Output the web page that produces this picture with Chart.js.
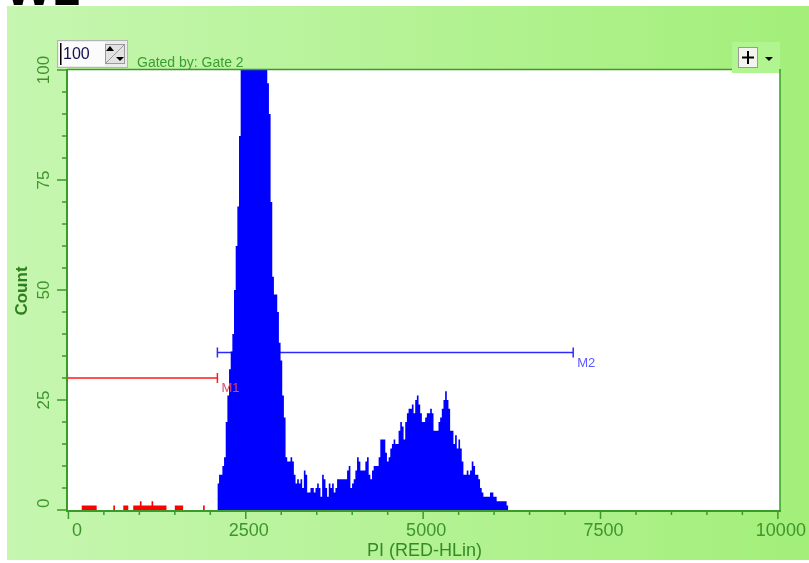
<!DOCTYPE html>
<html><head><meta charset="utf-8">
<script src="https://cdn.jsdelivr.net/npm/chart.js@4.4.1/dist/chart.umd.min.js"></script>
<style>html,body{margin:0;padding:0;background:#fff;overflow:hidden}canvas{display:block}</style>
</head><body>
<canvas id="c" width="809" height="563"></canvas>
<script>
// ---- data ----
const BIN_WIDTH = 23.43;     // PI units per histogram channel
const RED_START = 0;         // first channel drawn in red (below M2)
const BLUE_START = 2100;     // first channel drawn in blue (M2 region)
const redCounts = [0,0,0,0,0,0,0,0, 1,1,1,1,1,1,1,1,1, 0,0,0,0,0,0,0,0,0,0, 1, 0,0,0,0,0, 1,1,1, 0,0,0,
  1,1,1,1,2,1,1,1,1,1,1,2,1,1,1,1,1,1,1,1, 0,0,0,0,0, 1,1,1,1,1, 0,0,0,0,0,0,0,0,0,0,0,0, 1, 0,0,0,0,0,0,0];
const blueCounts = [6,8,8,10,12,20,26,32,36,40, 50,60,69,85,105,130,150,170,180,185,
  180,175,170,160,150,140,130,120,108,100, 97,90,70,53,49,49,45,38,34,26,
  21,12,11,11,12,11,8,6,7,6, 7,5,9,8,4,4,5,5,4,5, 6,5,3,8,7,5,3,6,5,6,
  4,5,7,7,7,7,7,7,9,10, 5,6,7,9,12,11,9,9,9,11, 12,8,7,9,10,10,10,12,16,16,
  16,13,11,12,14,15,16,15,15,18, 20,19,16,20,22,23,23,24,22,25, 26,24,22,20,20,21,22,22,23,22,
  18,18,18,20,21,23,25,27,25,23, 18,18,15,17,14,16,14,11,8,8, 9,8,9,11,10,8,8,7,5,4,
  3,3,3,3,4,4,3,3,2,2, 2,2,2,2,1];
const xTickLabels = ['0', '2500', '5000', '7500', '10000'];
const xTickValues = [0, 2500, 5000, 7500, 10000];
const yTickLabels = ['0', '25', '50', '75', '100'];
const yTickValues = [0, 25, 50, 75, 100];
const xMinorStep = 500;
const yMinorStep = 5;
const markerNames = ['M1', 'M2'];
const markerFrom = [-15, 2100];
const markerTo = [2100, 7115];
const markerLevel = [30, 35.8];
const xTitle = 'PI (RED-HLin)';
const yTitle = 'Count';
const gateText = 'Gated by: Gate 2';
const headText = 'W1';
const spinValue = '100';

// ---- styles ----
const AXIS = '#3a9b2a', LABEL = '#3d952c', TITLE = '#2e7f1e';
const FONT = '"Liberation Sans", Arial, sans-serif';
const markerColors = ['#ff1a1a', '#2a2aff'];
const markerLabelColors = ['#e0486a', '#5a5aff'];

function histPoints(start, counts) {
  const pts = counts.map((c, i) => ({x: start + i * BIN_WIDTH, y: c}));
  pts.push({x: start + counts.length * BIN_WIDTH, y: 0});
  return pts;
}

const histStyle = {stepped: 'before', fill: 'origin', borderWidth: 0, borderColor: 'rgba(0,0,0,0)', pointRadius: 0};
const datasets = [
  Object.assign({label: 'M1 events', data: histPoints(RED_START, redCounts), backgroundColor: '#ff0000'}, histStyle),
  Object.assign({label: 'M2 events', data: histPoints(BLUE_START, blueCounts), backgroundColor: '#0000ff'}, histStyle)
];
markerNames.forEach((n, i) => {
  datasets.push({label: n, data: [{x: markerFrom[i], y: markerLevel[i]}, {x: markerTo[i], y: markerLevel[i]}],
    borderColor: markerColors[i], borderWidth: 1.5, fill: false, pointStyle: 'line', rotation: 90,
    pointRadius: 5, pointBorderColor: markerColors[i], pointBorderWidth: 1.5, clip: false});
});

function seg(c, x1, y1, x2, y2) { c.beginPath(); c.moveTo(x1, y1); c.lineTo(x2, y2); c.stroke(); }

const bgPlugin = {
  id: 'bg',
  beforeDraw(chart) {
    const c = chart.ctx, a = chart.chartArea;
    c.save();
    c.fillStyle = '#fff'; c.fillRect(0, 0, 809, 563);
    const g = c.createLinearGradient(7, 0, 809, 0);
    g.addColorStop(0, '#c6f6b0'); g.addColorStop(1, '#a3ef7a');
    c.fillStyle = g; c.fillRect(7, 6, 802, 554);
    c.fillStyle = '#000'; c.font = 'bold 50px ' + FONT; c.textBaseline = 'alphabetic'; c.textAlign = 'left';
    c.fillText(headText, 5, 5);
    c.fillStyle = '#fff'; c.fillRect(a.left, a.top, a.right - a.left, a.bottom - a.top);
    // button panel at top-right
    c.fillStyle = '#b0f590'; c.fillRect(732, 42, a.right - 732, 31);
    c.restore();
  }
};

const axesPlugin = {
  id: 'axes',
  afterDatasetsDraw(chart) {
    const c = chart.ctx, a = chart.chartArea, xs = chart.scales.x, ys = chart.scales.y;
    c.save();
    c.strokeStyle = AXIS; c.lineWidth = 2;
    seg(c, a.left, a.top - 1, a.left, a.bottom + 2);
    seg(c, a.left - 1, a.bottom + 1, a.right + 1, a.bottom + 1);
    c.lineWidth = 1.5;
    seg(c, a.right, a.top - 1, a.right, a.bottom + 1);
    seg(c, a.left, a.top - 0.5, 732, a.top - 0.5);
    // y ticks
    for (let v = ys.min; v <= ys.max; v += yMinorStep) {
      const y = ys.getPixelForValue(v);
      const len = yTickValues.includes(v) ? 10 : 5;
      seg(c, a.left - len, y, a.left, y);
    }
    // x ticks
    for (let v = 0; v <= xs.max; v += xMinorStep) {
      const x = xs.getPixelForValue(v);
      const len = xTickValues.includes(v) ? 8 : 4;
      seg(c, x, a.bottom + 1, x, a.bottom + 1 + len);
    }
    // x labels
    c.fillStyle = LABEL; c.font = '18px ' + FONT; c.textAlign = 'center'; c.textBaseline = 'middle';
    xTickValues.forEach((v, i) => {
      const w = c.measureText(xTickLabels[i]).width;
      const x = Math.max(xs.getPixelForValue(v) + 3, a.left + 5 + w / 2);
      c.fillText(xTickLabels[i], x, 531);
    });
    // y labels (rotated)
    c.font = '17px ' + FONT;
    yTickValues.forEach((v, i) => {
      const w = c.measureText(yTickLabels[i]).width;
      const y = Math.min(ys.getPixelForValue(v), a.bottom - 2 - w / 2);
      c.save(); c.translate(44, y); c.rotate(-Math.PI / 2); c.fillText(yTickLabels[i], 0, 0); c.restore();
    });
    // titles
    c.fillStyle = TITLE; c.font = 'bold 17px ' + FONT;
    c.save(); c.translate(22, 291); c.rotate(-Math.PI / 2); c.fillText(yTitle, 0, 0); c.restore();
    c.fillStyle = '#368a26'; c.font = '18px ' + FONT;
    c.fillText(xTitle, (a.left + a.right) / 2 + 1, 551);
    c.fillStyle = '#3a9e30'; c.font = '14px ' + FONT; c.textAlign = 'left'; c.textBaseline = 'alphabetic';
    c.fillText(gateText, 137, 67);
    // marker labels
    c.font = '13px ' + FONT; c.textBaseline = 'middle';
    markerNames.forEach((n, i) => {
      c.fillStyle = markerLabelColors[i];
      c.fillText(n, xs.getPixelForValue(markerTo[i]) + 4, ys.getPixelForValue(markerLevel[i]) + 10.5);
    });
    // spin box
    c.fillStyle = '#ececec'; c.fillRect(57, 40, 71, 28);
    c.strokeStyle = '#b5b5b5'; c.lineWidth = 1; c.strokeRect(57.5, 40.5, 70, 27);
    c.fillStyle = '#fbfbfb'; c.fillRect(59, 42, 46, 24);
    c.fillStyle = '#000'; c.fillRect(60, 43, 1.5, 22);
    c.fillStyle = '#12124e'; c.font = '16px ' + FONT; c.textAlign = 'left'; c.textBaseline = 'middle';
    c.fillText(spinValue, 63, 55);
    c.fillStyle = '#e2e2e2'; c.fillRect(105, 44, 20, 20);
    c.strokeStyle = '#9a9a9a'; c.strokeRect(105.5, 44.5, 19, 19);
    seg(c, 106, 63, 124, 45);
    c.fillStyle = '#000';
    c.beginPath(); c.moveTo(106, 51); c.lineTo(110, 46); c.lineTo(114, 51); c.closePath(); c.fill();
    c.beginPath(); c.moveTo(116, 57); c.lineTo(124, 57); c.lineTo(120, 61); c.closePath(); c.fill();
    // plus button
    c.fillStyle = '#f4f4ee'; c.fillRect(738, 47, 20, 21);
    c.strokeStyle = '#9a9a9a'; c.strokeRect(738.5, 47.5, 19, 20);
    c.strokeStyle = '#000'; c.lineWidth = 2;
    seg(c, 742, 57.5, 754, 57.5); seg(c, 748, 51, 748, 64);
    c.fillStyle = '#000';
    c.beginPath(); c.moveTo(765, 57); c.lineTo(773, 57); c.lineTo(769, 61); c.closePath(); c.fill();
    c.restore();
  }
};

new Chart(document.getElementById('c').getContext('2d'), {
  type: 'line',
  data: {datasets},
  options: {
    responsive: false, animation: false, devicePixelRatio: 1,
    layout: {padding: {left: 67, top: 70, right: 29, bottom: 53}},
    plugins: {legend: {display: false}, tooltip: {enabled: false}},
    scales: {
      x: {type: 'linear', min: -20, max: 10030, display: false},
      y: {type: 'linear', min: 0, max: 100, display: false}
    }
  },
  plugins: [bgPlugin, axesPlugin]
});
</script>
</body></html>
